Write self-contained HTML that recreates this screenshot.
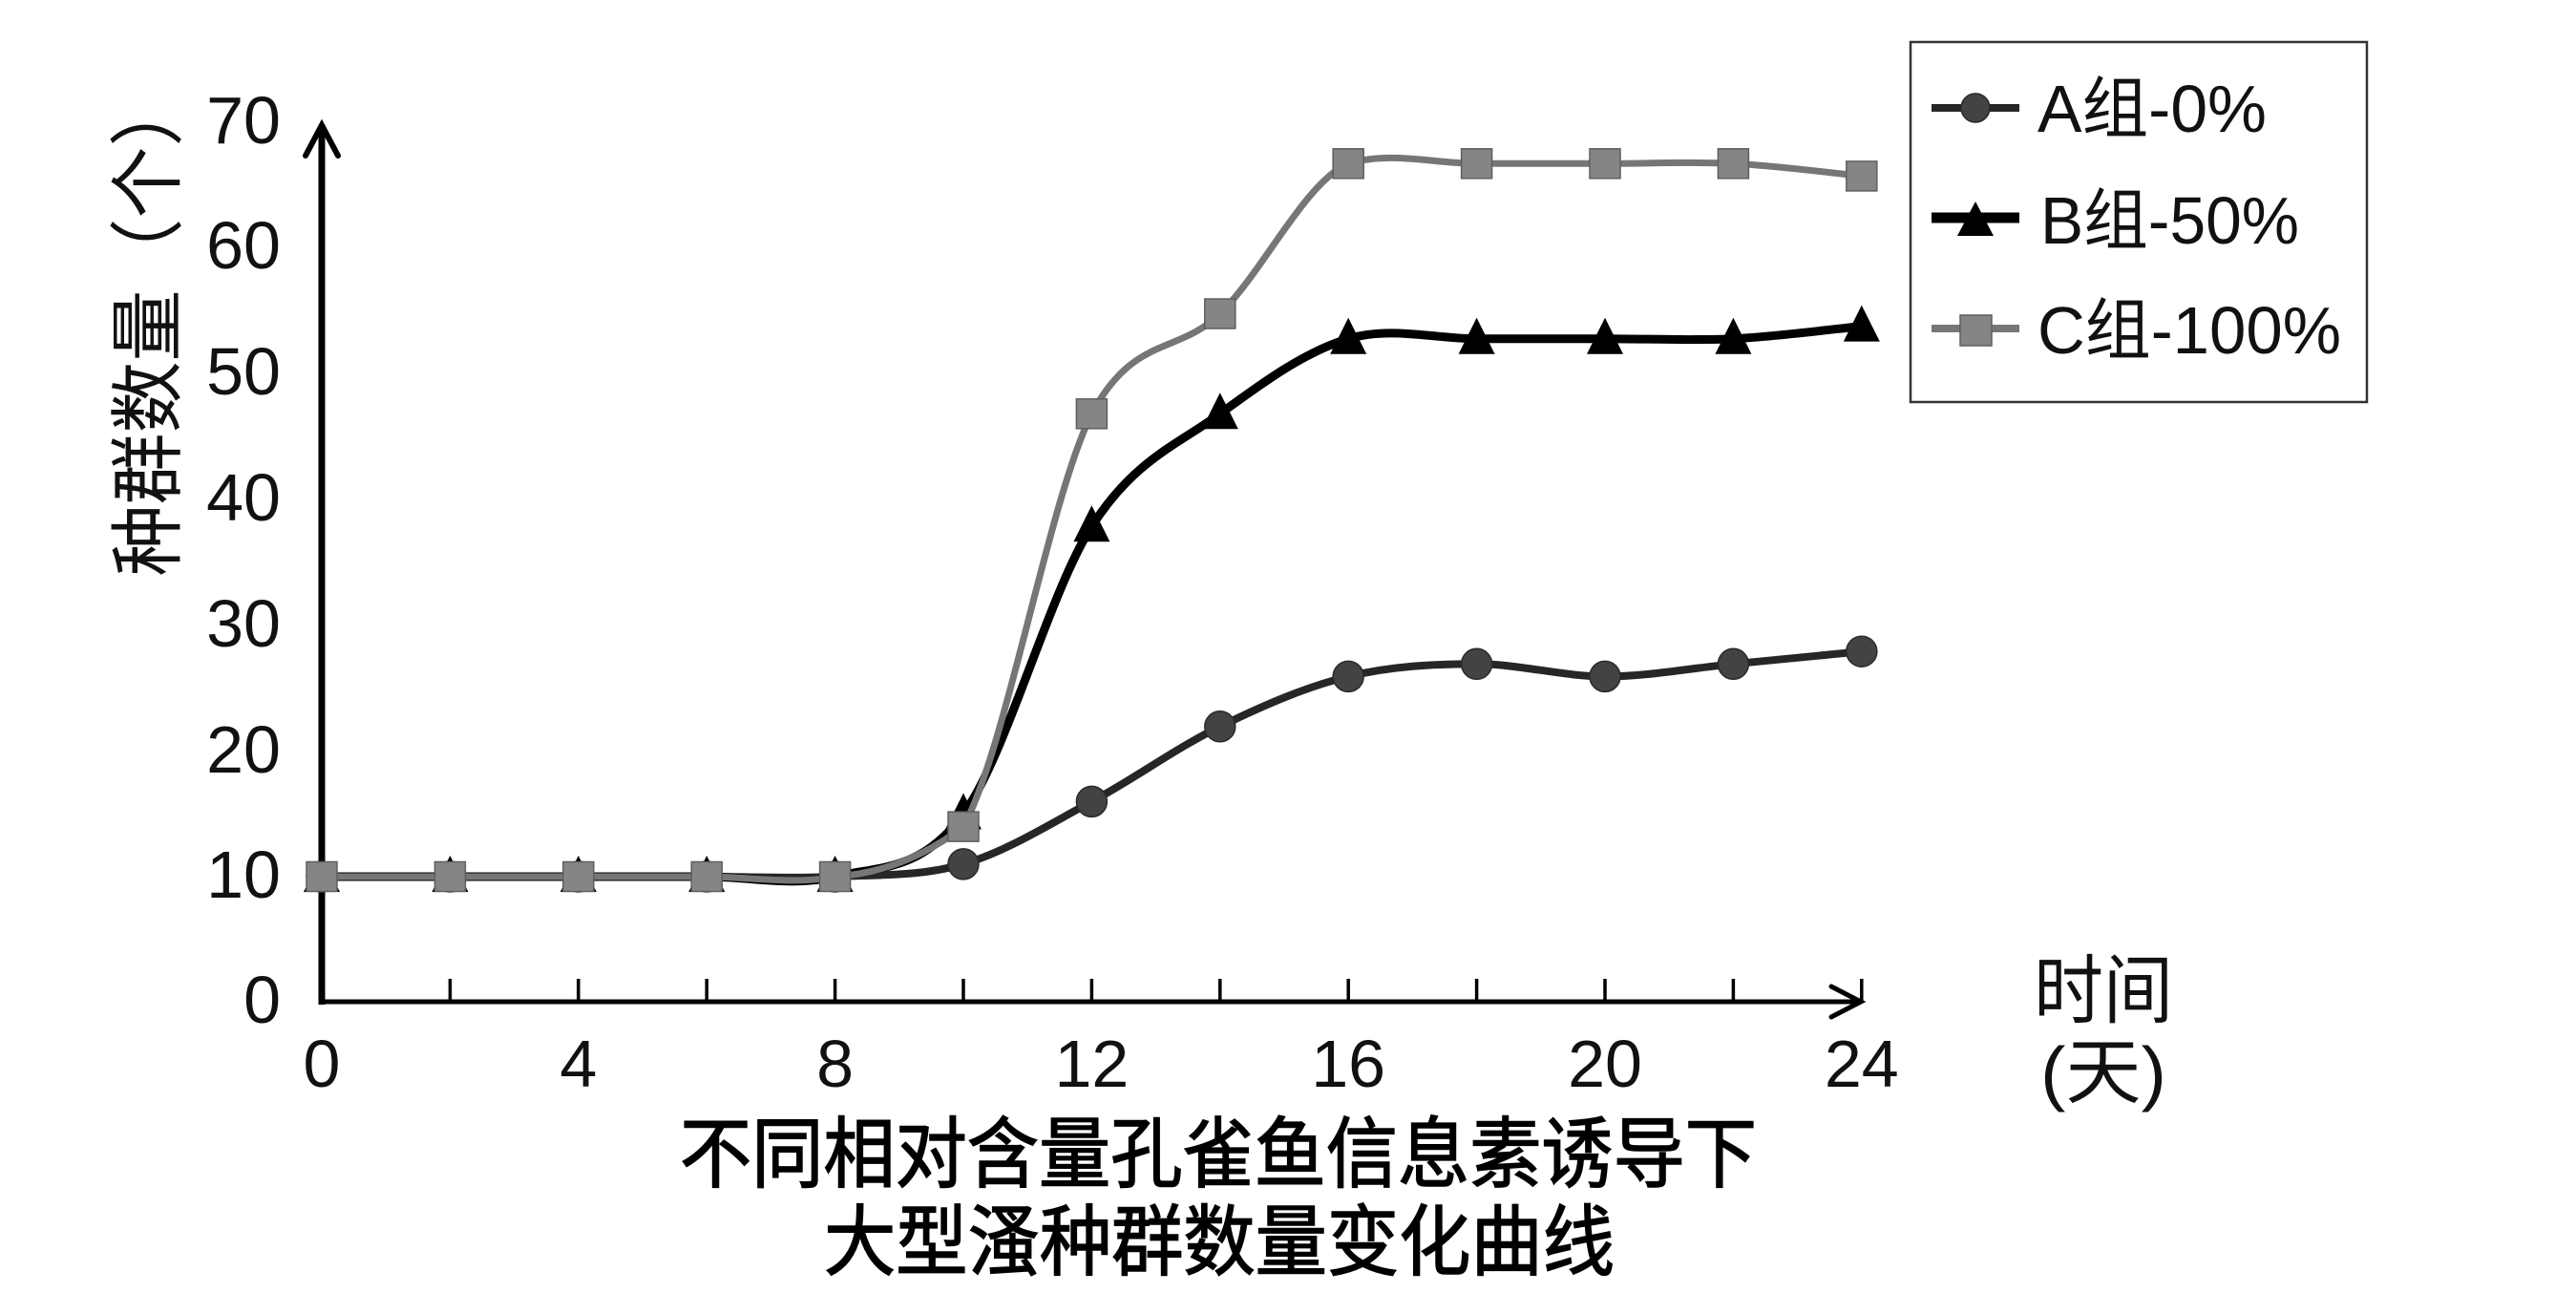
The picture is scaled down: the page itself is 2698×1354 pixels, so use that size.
<!DOCTYPE html>
<html>
<head>
<meta charset="utf-8">
<style>
html,body{margin:0;padding:0;background:#fff;}
svg{display:block;}
</style>
</head>
<body>
<svg width="2698" height="1354" viewBox="0 0 2698 1354" xmlns="http://www.w3.org/2000/svg">
<defs>
<polygon id="tri" points="0,-22 19,16 -19,16"/>
<rect id="sq" x="-16" y="-15.5" width="32" height="31"/>
<circle id="cir" cx="0" cy="0" r="16"/>
</defs>
<rect width="2698" height="1354" fill="#fff"/>

<!-- Axes -->
<line x1="337" y1="1052" x2="337" y2="134" stroke="#000" stroke-width="7"/>
<polyline points="320,163 337,131 354,163" fill="none" stroke="#000" stroke-width="6" stroke-linecap="round" stroke-linejoin="miter"/>
<line x1="334" y1="1049" x2="1947" y2="1049" stroke="#000" stroke-width="5"/>
<polyline points="1918,1033 1949,1049 1918,1065" fill="none" stroke="#000" stroke-width="5" stroke-linecap="round"/>
<g stroke="#000" stroke-width="3.5">
<line x1="471.4" y1="1025" x2="471.4" y2="1049"/>
<line x1="605.8" y1="1025" x2="605.8" y2="1049"/>
<line x1="740.2" y1="1025" x2="740.2" y2="1049"/>
<line x1="874.6" y1="1025" x2="874.6" y2="1049"/>
<line x1="1009" y1="1025" x2="1009" y2="1049"/>
<line x1="1143.4" y1="1025" x2="1143.4" y2="1049"/>
<line x1="1277.8" y1="1025" x2="1277.8" y2="1049"/>
<line x1="1412.2" y1="1025" x2="1412.2" y2="1049"/>
<line x1="1546.6" y1="1025" x2="1546.6" y2="1049"/>
<line x1="1681" y1="1025" x2="1681" y2="1049"/>
<line x1="1815.4" y1="1025" x2="1815.4" y2="1049"/>
<line x1="1949.8" y1="1025" x2="1949.8" y2="1049"/>
</g>

<!-- Y tick labels -->
<g font-family="'Liberation Sans','Noto Sans CJK SC',sans-serif" font-size="70" fill="#111" text-anchor="end">
<text x="294" y="1071">0</text>
<text x="294" y="940">10</text>
<text x="294" y="809">20</text>
<text x="294" y="677">30</text>
<text x="294" y="545">40</text>
<text x="294" y="413">50</text>
<text x="294" y="281">60</text>
<text x="294" y="150">70</text>
</g>

<!-- X tick labels -->
<g font-family="'Liberation Sans','Noto Sans CJK SC',sans-serif" font-size="70" fill="#111" text-anchor="middle">
<text x="337" y="1138">0</text>
<text x="605.8" y="1138">4</text>
<text x="874.6" y="1138">8</text>
<text x="1143.4" y="1138">12</text>
<text x="1412.2" y="1138">16</text>
<text x="1681" y="1138">20</text>
<text x="1949.8" y="1138">24</text>
</g>

<!-- Y axis title -->
<g transform="translate(182,341) rotate(-90)">
<text x="0" y="0" text-anchor="middle" font-family="'Liberation Sans','Noto Sans CJK SC',sans-serif" font-size="78" fill="#111" textLength="525" lengthAdjust="spacingAndGlyphs">种群数量（个）</text>
</g>

<!-- X axis title -->
<text x="2130" y="1065" font-family="'Liberation Sans','Noto Sans CJK SC',sans-serif" font-size="79" fill="#111" textLength="146" lengthAdjust="spacingAndGlyphs">时间</text>
<text x="2137" y="1149" font-family="'Liberation Sans','Noto Sans CJK SC',sans-serif" font-size="75" fill="#111" textLength="132" lengthAdjust="spacingAndGlyphs">(天)</text>

<!-- Caption -->
<g font-family="'Liberation Sans','Noto Sans CJK SC',sans-serif" font-size="81" fill="#000" stroke="#000" stroke-width="1.5" text-anchor="middle">
<text x="1276" y="1237" textLength="1128" lengthAdjust="spacingAndGlyphs">不同相对含量孔雀鱼信息素诱导下</text>
<text x="1277" y="1329" textLength="828" lengthAdjust="spacingAndGlyphs">大型溞种群数量变化曲线</text>
</g>

<!-- Series A -->
<path fill="none" stroke="#262626" stroke-width="8" stroke-linejoin="round"
d="M337,918 C359.4,918 426.6,918 471.4,918 C516.2,918 561,918 605.8,918 C650.6,918 695.4,918 740.2,918 C785,918 829.8,920.18 874.6,918 C919.4,915.82 964.2,918 1009,904.9 C1053.8,891.8 1098.6,863.42 1143.4,839.4 C1188.2,815.38 1233,782.63 1277.8,760.8 C1322.6,738.97 1367.4,719.32 1412.2,708.4 C1457,697.48 1501.8,695.3 1546.6,695.3 C1591.4,695.3 1636.2,708.4 1681,708.4 C1725.8,708.4 1770.6,699.67 1815.4,695.3 C1860.2,690.93 1927.4,684.38 1949.8,682.2"/>
<g fill="#434343" stroke="#2a2a2a" stroke-width="1.5">
<use href="#cir" x="337" y="918"/>
<use href="#cir" x="471.4" y="918"/>
<use href="#cir" x="605.8" y="918"/>
<use href="#cir" x="740.2" y="918"/>
<use href="#cir" x="874.6" y="918"/>
<use href="#cir" x="1009" y="904.9"/>
<use href="#cir" x="1143.4" y="839.4"/>
<use href="#cir" x="1277.8" y="760.8"/>
<use href="#cir" x="1412.2" y="708.4"/>
<use href="#cir" x="1546.6" y="695.3"/>
<use href="#cir" x="1681" y="708.4"/>
<use href="#cir" x="1815.4" y="695.3"/>
<use href="#cir" x="1949.8" y="682.2"/>
</g>

<!-- Series B -->
<path fill="none" stroke="#000" stroke-width="9" stroke-linejoin="round"
d="M337,918 C359.4,918 426.6,918 471.4,918 C516.2,918 561,918 605.8,918 C650.6,918 695.4,918 740.2,918 C785,918 829.8,928.92 874.6,918 C919.4,907.08 964.2,913.63 1009,852.5 C1053.8,791.37 1098.6,621.07 1143.4,551.2 C1188.2,481.33 1233,466.05 1277.8,433.3 C1322.6,400.55 1367.4,367.8 1412.2,354.7 C1457,341.6 1501.8,354.7 1546.6,354.7 C1591.4,354.7 1636.2,354.7 1681,354.7 C1725.8,354.7 1770.6,356.88 1815.4,354.7 C1860.2,352.52 1927.4,343.78 1949.8,341.6"/>
<g fill="#000">
<use href="#tri" x="337" y="918"/>
<use href="#tri" x="471.4" y="918"/>
<use href="#tri" x="605.8" y="918"/>
<use href="#tri" x="740.2" y="918"/>
<use href="#tri" x="874.6" y="918"/>
<use href="#tri" x="1009" y="852.5"/>
<use href="#tri" x="1143.4" y="551.2"/>
<use href="#tri" x="1277.8" y="433.3"/>
<use href="#tri" x="1412.2" y="354.7"/>
<use href="#tri" x="1546.6" y="354.7"/>
<use href="#tri" x="1681" y="354.7"/>
<use href="#tri" x="1815.4" y="354.7"/>
<use href="#tri" x="1949.8" y="341.6"/>
</g>

<!-- Series C -->
<path fill="none" stroke="#767676" stroke-width="7" stroke-linejoin="round"
d="M337,918 C359.4,918 426.6,918 471.4,918 C516.2,918 561,918 605.8,918 C650.6,918 695.4,918 740.2,918 C785,918 829.8,926.73 874.6,918 C919.4,915 964.2,900 1009,865.6 C1053.8,784.82 1098.6,522.82 1143.4,433.3 C1188.2,350 1233,372.17 1277.8,328.5 C1322.6,284.83 1367.4,190 1412.2,171.3 C1457,158 1501.8,171.3 1546.6,171.3 C1591.4,171.3 1636.2,171.3 1681,171.3 C1725.8,171.3 1770.6,169.12 1815.4,171.3 C1860.2,173.48 1927.4,182.22 1949.8,184.4"/>
<g fill="#858585" stroke="#5e5e5e" stroke-width="1.5">
<use href="#sq" x="337" y="918"/>
<use href="#sq" x="471.4" y="918"/>
<use href="#sq" x="605.8" y="918"/>
<use href="#sq" x="740.2" y="918"/>
<use href="#sq" x="874.6" y="918"/>
<use href="#sq" x="1009" y="865.6"/>
<use href="#sq" x="1143.4" y="433.3"/>
<use href="#sq" x="1277.8" y="328.5"/>
<use href="#sq" x="1412.2" y="171.3"/>
<use href="#sq" x="1546.6" y="171.3"/>
<use href="#sq" x="1681" y="171.3"/>
<use href="#sq" x="1815.4" y="171.3"/>
<use href="#sq" x="1949.8" y="184.4"/>
</g>

<!-- Legend -->
<rect x="2001" y="44" width="478" height="377" fill="#fff" stroke="#333" stroke-width="2.5"/>
<line x1="2023" y1="113" x2="2115" y2="113" stroke="#262626" stroke-width="8"/>
<circle cx="2069" cy="113" r="15" fill="#434343" stroke="#2a2a2a" stroke-width="1.5"/>
<line x1="2023" y1="228" x2="2115" y2="228" stroke="#000" stroke-width="11"/>
<polygon points="2069,211 2088,247 2050,247" fill="#000"/>
<line x1="2023" y1="344" x2="2115" y2="344" stroke="#767676" stroke-width="8"/>
<rect x="2053" y="330" width="33" height="32" fill="#858585" stroke="#5e5e5e" stroke-width="1.5"/>
<g font-family="'Liberation Sans','Noto Sans CJK SC',sans-serif" font-size="70" fill="#111">
<text x="2134" y="138" textLength="240" lengthAdjust="spacingAndGlyphs">A组-0%</text>
<text x="2137" y="255" textLength="271" lengthAdjust="spacingAndGlyphs">B组-50%</text>
<text x="2134" y="370" textLength="318" lengthAdjust="spacingAndGlyphs">C组-100%</text>
</g>
</svg>
</body>
</html>
